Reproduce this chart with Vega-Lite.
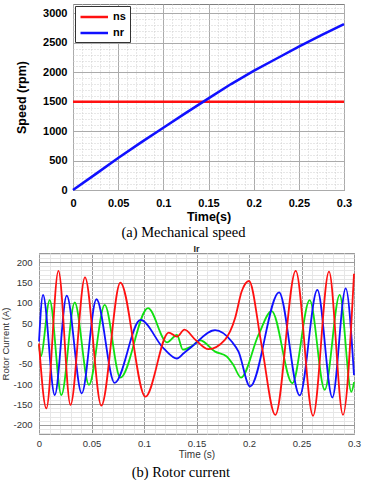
{
  "$schema": "https://vega.github.io/schema/vega-lite/v6.json",
  "background": "white",
  "padding": {"left": 0, "top": 1, "right": 0, "bottom": 0},
  "config": {"view": {"stroke": null}},
  "title": {"text": "(b) Rotor current", "orient": "bottom", "anchor": "middle", "frame": "bounds", "font": "Liberation Serif", "fontSize": 14.5, "fontWeight": "normal", "color": "black", "offset": 6, "dx": 0},
  "resolve": {"scale": {"color": "independent"}, "legend": {"color": "independent"}},
  "datasets": {
    "speed": [
      {"t": 0, "v": 1500, "s": "ns"}, {"t": 0.3, "v": 1500, "s": "ns"},
      {"t": 0, "v": 0, "s": "nr"}, {"t": 0.025, "v": 270, "s": "nr"}, {"t": 0.05, "v": 545, "s": "nr"}, {"t": 0.075, "v": 805, "s": "nr"}, {"t": 0.1, "v": 1057, "s": "nr"}, {"t": 0.125, "v": 1310, "s": "nr"}, {"t": 0.15, "v": 1557, "s": "nr"}, {"t": 0.175, "v": 1800, "s": "nr"}, {"t": 0.2, "v": 2023, "s": "nr"}, {"t": 0.225, "v": 2230, "s": "nr"}, {"t": 0.25, "v": 2437, "s": "nr"}, {"t": 0.275, "v": 2630, "s": "nr"}, {"t": 0.3, "v": 2818, "s": "nr"}
    ],
    "current": [
      {"t": 0, "v": -3, "s": "g"}, {"t": 0.0016, "v": -32, "s": "g"}, {"t": 0.0102, "v": 107, "s": "g"}, {"t": 0.0213, "v": -127, "s": "g"}, {"t": 0.034, "v": 101, "s": "g"}, {"t": 0.0476, "v": -102, "s": "g"}, {"t": 0.0626, "v": 95, "s": "g"}, {"t": 0.0775, "v": -84, "s": "g"}, {"t": 0.1038, "v": 87, "s": "g"}, {"t": 0.1219, "v": 3, "s": "g"}, {"t": 0.1314, "v": 21, "s": "g"}, {"t": 0.137, "v": -15, "s": "g"}, {"t": 0.1454, "v": -7, "s": "g"}, {"t": 0.1533, "v": 8, "s": "g"}, {"t": 0.1677, "v": -20, "s": "g"}, {"t": 0.1788, "v": -32, "s": "g"}, {"t": 0.1851, "v": -53, "s": "g"}, {"t": 0.1924, "v": -84, "s": "g"}, {"t": 0.209, "v": 21, "s": "g"}, {"t": 0.2216, "v": 80, "s": "g"}, {"t": 0.2413, "v": -98, "s": "g"}, {"t": 0.2578, "v": 107, "s": "g"}, {"t": 0.2721, "v": -114, "s": "g"}, {"t": 0.2864, "v": 120, "s": "g"}, {"t": 0.2975, "v": -119, "s": "g"}, {"t": 0.3, "v": -95, "s": "g"},
      {"t": 0, "v": 5, "s": "b"}, {"t": 0.0038, "v": 120, "s": "b"}, {"t": 0.015, "v": -127, "s": "b"}, {"t": 0.0264, "v": 118, "s": "b"}, {"t": 0.0407, "v": -123, "s": "b"}, {"t": 0.0547, "v": 109, "s": "b"}, {"t": 0.072, "v": -97, "s": "b"}, {"t": 0.0966, "v": 58, "s": "b"}, {"t": 0.1187, "v": -12, "s": "b"}, {"t": 0.1314, "v": -37, "s": "b"}, {"t": 0.1378, "v": -24, "s": "b"}, {"t": 0.1454, "v": -8, "s": "b"}, {"t": 0.1677, "v": 33, "s": "b"}, {"t": 0.1835, "v": 5, "s": "b"}, {"t": 0.19, "v": -20, "s": "b"}, {"t": 0.201, "v": -106, "s": "b"}, {"t": 0.2286, "v": 126, "s": "b"}, {"t": 0.2483, "v": -128, "s": "b"}, {"t": 0.2651, "v": 132, "s": "b"}, {"t": 0.2794, "v": -133, "s": "b"}, {"t": 0.2921, "v": 136, "s": "b"}, {"t": 0.3, "v": -78, "s": "b"},
      {"t": 0, "v": 0, "s": "r"}, {"t": 0.007, "v": -160, "s": "r"}, {"t": 0.0185, "v": 179, "s": "r"}, {"t": 0.03, "v": -151, "s": "r"}, {"t": 0.0438, "v": 163, "s": "r"}, {"t": 0.0594, "v": -153, "s": "r"}, {"t": 0.0775, "v": 150, "s": "r"}, {"t": 0.1013, "v": -131, "s": "r"}, {"t": 0.1235, "v": 27, "s": "r"}, {"t": 0.1314, "v": 17, "s": "r"}, {"t": 0.1385, "v": 34, "s": "r"}, {"t": 0.149, "v": 9, "s": "r"}, {"t": 0.1613, "v": -14, "s": "r"}, {"t": 0.177, "v": 9, "s": "r"}, {"t": 0.1867, "v": 62, "s": "r"}, {"t": 0.193, "v": 128, "s": "r"}, {"t": 0.2, "v": 154, "s": "r"}, {"t": 0.212, "v": -4, "s": "r"}, {"t": 0.2251, "v": -176, "s": "r"}, {"t": 0.2445, "v": 179, "s": "r"}, {"t": 0.261, "v": -178, "s": "r"}, {"t": 0.2762, "v": 177, "s": "r"}, {"t": 0.2895, "v": -176, "s": "r"}, {"t": 0.3, "v": 172, "s": "r"}
    ]
  },
  "columns": 1,
  "spacing": 4,
  "concat": [
    {
      "spacing": 0,
      "bounds": "flush",
      "resolve": {"scale": {"color": "independent"}, "legend": {"color": "independent"}},
      "hconcat": [
        {"width": 33.5, "height": 10, "data": {"values": [{}]}, "mark": {"type": "point", "opacity": 0}, "view": {"stroke": null}},
        {
          "width": 271,
          "height": 186,
          "data": {"name": "speed"},
          "view": {"stroke": "#808080", "strokeWidth": 1},
          "title": {"text": "(a) Mechanical speed", "orient": "bottom", "anchor": "middle", "frame": "group", "font": "Liberation Serif", "fontSize": 14.5, "fontWeight": "normal", "color": "black", "offset": 3, "dx": -25},
          "mark": {"type": "line", "strokeWidth": 2.5},
          "encoding": {
            "x": {"field": "t", "type": "quantitative", "scale": {"domain": [0, 0.3], "nice": false, "zero": false},
              "axis": {"title": "Time(s)", "values": [0,0.01,0.02,0.03,0.04,0.05,0.06,0.07,0.08,0.09,0.1,0.11,0.12,0.13,0.14,0.15,0.16,0.17,0.18,0.19,0.2,0.21,0.22,0.23,0.24,0.25,0.26,0.27,0.28,0.29,0.3],
                "labelExpr": "abs(datum.value*20 - round(datum.value*20)) < 0.000001 ? '' + datum.value : ''",
                "labelFont": "Liberation Sans", "labelFontWeight": "bold", "labelFontSize": 11, "labelColor": "black", "labelPadding": 7, "labelOverlap": false, "labelFlush": false,
                "ticks": false, "domain": false, "grid": true,
                "gridColor": {"condition": {"test": "abs(datum.value*20 - round(datum.value*20)) < 0.000001", "value": "#ababab"}, "value": "#cfcfcf"},
                "gridDash": {"condition": {"test": "abs(datum.value*20 - round(datum.value*20)) < 0.000001", "value": []}, "value": [1, 2]},
                "titleFont": "Liberation Sans", "titleFontSize": 12.5, "titleFontWeight": "bold", "titleColor": "black", "titlePadding": 2.5}},
            "y": {"field": "v", "type": "quantitative", "scale": {"domain": [0, 3160], "nice": false},
              "axis": {"title": "Speed (rpm)", "values": [0,100,200,300,400,500,600,700,800,900,1000,1100,1200,1300,1400,1500,1600,1700,1800,1900,2000,2100,2200,2300,2400,2500,2600,2700,2800,2900,3000,3100],
                "labelExpr": "datum.value % 500 == 0 ? '' + datum.value : ''",
                "labelFont": "Liberation Sans", "labelFontWeight": "bold", "labelFontSize": 11, "labelColor": "black", "labelPadding": 6, "labelOverlap": false, "labelFlush": false,
                "ticks": false, "domain": false, "grid": true,
                "gridColor": {"condition": {"test": "datum.value % 500 == 0", "value": "#ababab"}, "value": "#cfcfcf"},
                "gridDash": {"condition": {"test": "datum.value % 500 == 0", "value": []}, "value": [1, 2]},
                "titleFont": "Liberation Sans", "titleFontSize": 12.5, "titleFontWeight": "bold", "titleColor": "black", "titlePadding": 14}},
            "color": {"field": "s", "type": "nominal", "scale": {"domain": ["ns", "nr"], "range": ["#ff1010", "#1010ff"]},
              "legend": {"title": null, "orient": "top-left", "offset": 2, "padding": 4, "strokeColor": "#333333", "fillColor": "white", "symbolType": "M-1,0H4", "symbolSize": 121, "symbolStrokeWidth": 2.5, "labelFont": "Liberation Sans", "labelFontWeight": "bold", "labelFontSize": 11, "labelColor": "black", "labelOffset": 20, "rowPadding": 4}}
          }
        }
      ]
    },
    {
      "width": 315,
      "height": 181,
      "data": {"name": "current"},
      "view": {"stroke": "#999999", "strokeWidth": 1},
      "title": {"text": "Ir", "anchor": "middle", "frame": "group", "font": "Liberation Sans", "fontSize": 9, "fontWeight": "bold", "color": "#222222", "offset": -5},
      "mark": {"type": "line", "strokeWidth": 1.8, "interpolate": "monotone"},
      "encoding": {
        "x": {"field": "t", "type": "quantitative", "scale": {"domain": [0, 0.3], "nice": false, "zero": false},
          "axis": {"title": "Time (s)", "values": [0,0.01,0.02,0.03,0.04,0.05,0.06,0.07,0.08,0.09,0.1,0.11,0.12,0.13,0.14,0.15,0.16,0.17,0.18,0.19,0.2,0.21,0.22,0.23,0.24,0.25,0.26,0.27,0.28,0.29,0.3],
            "labelExpr": "abs(datum.value*20 - round(datum.value*20)) < 0.000001 ? '' + datum.value : ''",
            "labelFont": "Liberation Sans", "labelFontSize": 9.5, "labelColor": "#333333", "labelPadding": 4, "labelOverlap": false, "labelFlush": false,
            "ticks": false, "domain": false, "grid": true,
            "gridColor": {"condition": {"test": "abs(datum.value*20 - round(datum.value*20)) < 0.000001", "value": "#9a9a9a"}, "value": "#e6e6e6"},
            "titleFont": "Liberation Sans", "titleFontSize": 10, "titleFontWeight": "normal", "titleColor": "#333333", "titlePadding": 2}},
        "y": {"field": "v", "type": "quantitative", "scale": {"domain": [-223, 223], "nice": false, "zero": false},
          "axis": {"title": "Rotor Current (A)", "values": [-220,-210,-200,-190,-180,-170,-160,-150,-140,-130,-120,-110,-100,-90,-80,-70,-60,-50,-40,-30,-20,-10,0,10,20,30,40,50,60,70,80,90,100,110,120,130,140,150,160,170,180,190,200,210,220],
            "labelExpr": "datum.value % 50 == 0 ? '' + datum.value : ''",
            "labelFont": "Liberation Sans", "labelFontSize": 9.5, "labelColor": "#333333", "labelPadding": 7, "labelOverlap": false, "labelFlush": false,
            "ticks": false, "domain": false, "grid": true,
            "gridColor": {"condition": {"test": "datum.value % 50 == 0", "value": "#9a9a9a"}, "value": "#e6e6e6"},
            "titleFont": "Liberation Sans", "titleFontSize": 9.5, "titleFontWeight": "normal", "titleColor": "#333333", "titlePadding": 2}},
        "color": {"field": "s", "type": "nominal", "scale": {"domain": ["g", "b", "r"], "range": ["#10e010", "#1010ff", "#ff1010"]}, "legend": null}
      }
    }
  ]
}
